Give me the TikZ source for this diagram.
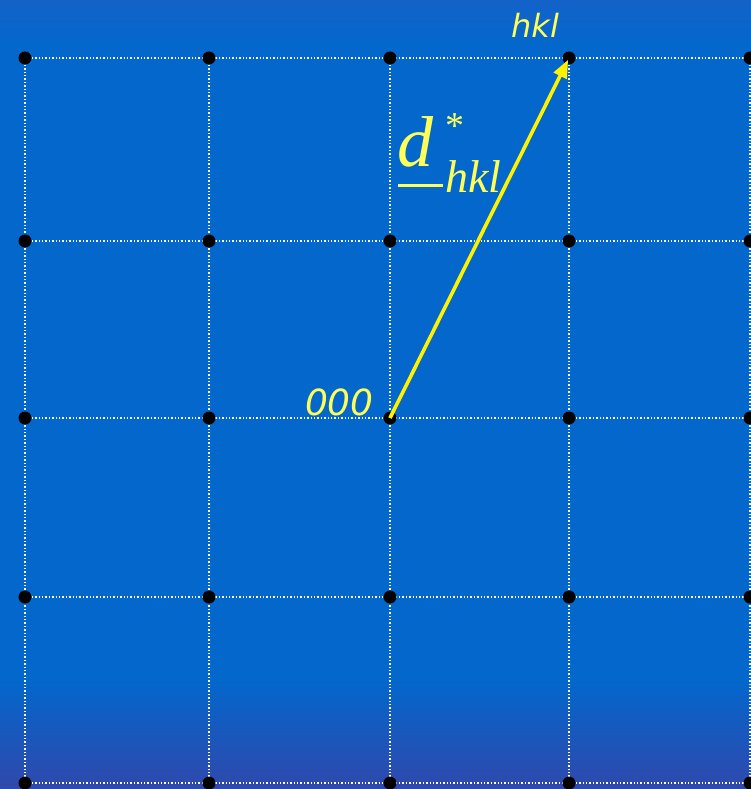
\documentclass[tikz,border=0pt]{standalone}
\usepackage{fontspec}
\setmainfont{Liberation Serif}
\newfontfamily\labelfont{DejaVu Sans}
\usetikzlibrary{arrows.meta}
\definecolor{bg}{RGB}{3,103,204}
\definecolor{bgtop}{RGB}{20,98,200}
\definecolor{bgbot}{RGB}{48,72,172}
\definecolor{lbl}{RGB}{255,255,90}
\begin{document}
\begin{tikzpicture}[x=1pt,y=-1pt,
  gridline/.style={white, line width=1.4pt, dash pattern=on 1.4pt off 2pt},
  latt/.style={circle, fill=black, inner sep=0pt, minimum size=13pt},
  vec/.style={yellow, line width=3.6pt, -{Triangle[length=18pt,width=14pt]}},
  saslabel/.style={text=lbl, inner sep=0pt, font=\labelfont\itshape}]
\useasboundingbox (0,0) rectangle (751,789);
\fill[bg] (0,0) rectangle (751,789);
\shade[top color=bgtop, bottom color=bg] (0,0) rectangle (751,45);
\shade[top color=bg, bottom color=bgbot] (0,680) rectangle (751,789);
% lattice points
\foreach \x [count=\i] in {25,209,390,569,750} {
  \foreach \y [count=\j] in {58,241,418,597,783} {
    \coordinate (c-\i-\j) at (\x,\y);
  }
}
% grid lines
\foreach \j in {1,...,5} { \draw[gridline] (c-1-\j) -- (751,0 |- c-1-\j); }
\foreach \i in {1,...,5} { \draw[gridline] (c-\i-1) -- (c-\i-5); }
\foreach \i in {1,...,5} {
  \foreach \j in {1,...,5} {
    \node[latt] (p-\i-\j) at (c-\i-\j) {};
  }
}
% vector
\draw[vec, shorten >=2pt] (p-3-3.center) -- (p-4-1.center);
% labels
\node[saslabel, anchor=base west, font=\labelfont\itshape\fontsize{32}{32}\selectfont] (hkl) at (511,38) {hkl};
\node[saslabel, anchor=base east, font=\labelfont\itshape\fontsize{36}{36}\selectfont] (origin) at (374,415) {000};
\node[text=lbl, inner sep=0pt, anchor=base west, font=\fontsize{72}{72}\selectfont\itshape] (dvec) at (397,166) {d};
\draw[lbl, line width=3pt] (398,185) -- (443,185);
\node[text=lbl, inner sep=0pt, anchor=base west, font=\fontsize{46}{46}\selectfont\itshape] (dsub) at (445,192) {hkl};
\node[text=lbl, inner sep=0pt, font=\fontsize{38}{38}\selectfont] (dstar) at (455,126) {*};
\end{tikzpicture}
\end{document}
